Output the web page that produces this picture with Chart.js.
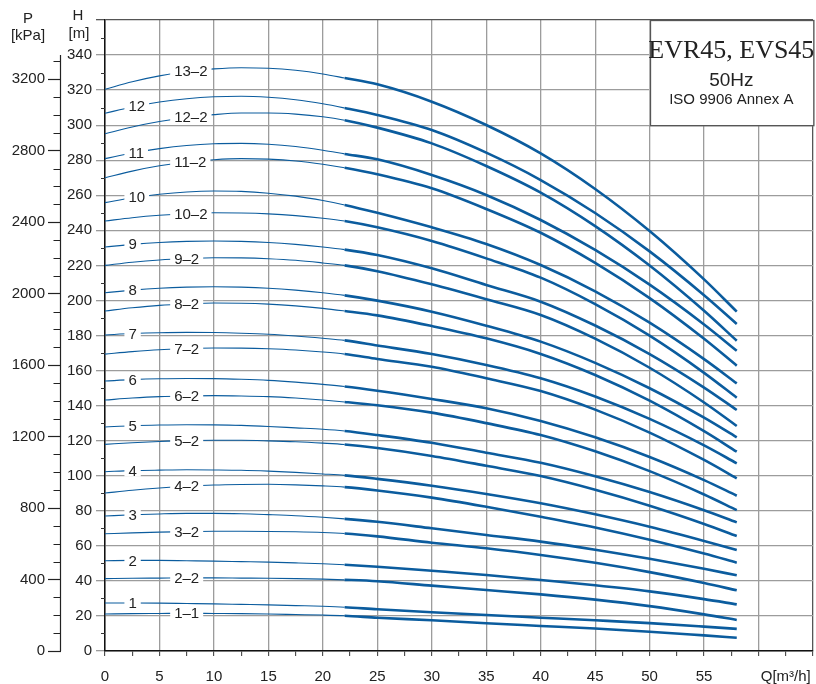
<!DOCTYPE html>
<html><head><meta charset="utf-8">
<script src="https://cdn.jsdelivr.net/npm/chart.js@4.4.1/dist/chart.umd.min.js"></script>
<style>html,body{margin:0;padding:0;background:#fff}#wrap{width:816px;height:684px}</style>
</head><body><div id="wrap"><canvas id="c" width="816" height="684"></canvas></div>
<script>
// Flow rate Q [m3/h]
const Q = [0, 2.5, 5, 7.5, 10, 12.5, 15, 17.5, 20, 22, 25, 30, 35, 40, 45, 50, 55, 58];
// Head H [m] per stage configuration
const H_1_1  = [21.1, 21.3, 21.4, 21.5, 21.4, 21.3, 21.1, 20.8, 20.5, 20.1, 19.0, 17.5, 15.8, 14.3, 12.8, 11.0, 8.9, 7.6];
const H_1    = [27.4, 27.4, 27.3, 27.1, 26.9, 26.6, 26.3, 25.9, 25.5, 25.0, 23.8, 22.1, 20.5, 19.0, 17.5, 15.9, 13.9, 12.6];
const H_2_2  = [41.3, 41.5, 41.6, 41.7, 41.7, 41.6, 41.5, 41.3, 41.0, 40.6, 39.8, 37.3, 34.8, 32.3, 29.3, 25.6, 20.9, 17.7];
const H_2    = [51.5, 51.7, 51.7, 51.5, 51.3, 51.0, 50.7, 50.3, 49.8, 49.2, 48.1, 45.8, 43.4, 40.5, 37.5, 34.0, 29.6, 26.6];
const H_3_2  = [66.9, 67.4, 67.8, 68.1, 68.3, 68.3, 68.2, 68.0, 67.6, 67.0, 65.4, 61.8, 58.6, 54.8, 50.3, 45.0, 38.8, 34.6];
const H_3    = [77.0, 77.7, 78.2, 78.5, 78.5, 78.3, 77.8, 77.2, 76.3, 75.4, 73.7, 70.0, 66.2, 62.4, 57.8, 52.6, 46.9, 43.2];
const H_4_2  = [90.1, 91.7, 93.0, 94.0, 94.7, 95.0, 95.1, 94.8, 94.2, 93.5, 91.6, 87.5, 82.3, 76.6, 70.5, 63.5, 55.6, 50.4];
const H_4    = [102.3, 102.9, 103.2, 103.4, 103.3, 103.1, 102.6, 101.9, 101.0, 100.2, 98.2, 94.3, 89.6, 84.3, 78.0, 70.9, 62.8, 57.6];
const H_5_2  = [117.9, 118.8, 119.5, 120.0, 120.2, 120.2, 119.9, 119.4, 118.6, 117.8, 115.8, 111.3, 105.7, 99.8, 92.0, 82.9, 72.5, 65.6];
const H_5    = [127.8, 128.5, 128.9, 129.1, 129.0, 128.7, 128.1, 127.3, 126.5, 125.5, 123.2, 118.8, 113.1, 107.4, 99.7, 90.7, 80.3, 73.4];
const H_6_2  = [143.2, 144.3, 145.1, 145.5, 145.7, 145.5, 145.1, 144.3, 143.2, 142.1, 140.2, 136.0, 130.0, 123.2, 113.9, 102.6, 89.3, 80.4];
const H_6    = [154.0, 154.8, 155.3, 155.5, 155.4, 155.0, 154.4, 153.4, 152.1, 150.9, 148.5, 143.8, 138.5, 131.2, 121.9, 110.7, 97.5, 88.6];
const H_7_2  = [169.4, 170.8, 171.9, 172.5, 172.9, 172.8, 172.4, 171.7, 170.6, 169.4, 166.6, 162.2, 155.6, 148.3, 137.7, 124.6, 109.0, 98.5];
const H_7    = [180.3, 181.1, 181.6, 181.8, 181.7, 181.3, 180.7, 179.7, 178.4, 177.2, 174.3, 169.4, 163.2, 155.6, 145.2, 132.4, 117.3, 107.1];
const H_8_2  = [194.0, 195.8, 197.2, 198.0, 198.5, 198.4, 197.9, 196.9, 195.5, 194.0, 191.5, 185.4, 178.4, 169.5, 157.5, 142.8, 125.4, 113.7];
const H_8    = [204.4, 205.9, 207.0, 207.6, 207.8, 207.6, 207.0, 205.9, 204.4, 202.9, 199.9, 193.6, 185.6, 176.5, 164.4, 149.9, 133.1, 121.9];
const H_9_2  = [220.0, 221.8, 223.1, 223.9, 224.4, 224.3, 223.8, 222.9, 221.4, 220.0, 216.7, 209.2, 200.7, 191.7, 178.2, 161.6, 141.8, 128.4];
const H_9    = [230.5, 232.0, 233.1, 233.7, 233.9, 233.7, 233.1, 232.0, 230.5, 229.0, 225.9, 218.3, 208.8, 199.3, 185.7, 169.4, 150.3, 137.5];
const H_10_2 = [245.3, 247.2, 248.6, 249.5, 250.0, 249.9, 249.4, 248.4, 246.9, 245.3, 241.7, 233.9, 224.0, 213.0, 197.9, 179.9, 158.7, 144.5];
const H_10   = [255.8, 258.6, 260.6, 261.9, 262.4, 262.2, 261.2, 259.5, 257.0, 254.5, 250.0, 241.7, 232.2, 220.2, 205.2, 187.3, 166.5, 152.7];
const H_11_2 = [270.0, 273.8, 276.8, 279.0, 280.3, 280.9, 280.6, 279.6, 277.7, 275.7, 272.0, 264.0, 252.2, 238.6, 221.4, 201.3, 178.1, 162.8];
const H_11   = [280.9, 284.1, 286.6, 288.4, 289.4, 289.6, 289.1, 287.8, 285.7, 283.6, 280.5, 271.6, 260.2, 245.9, 228.8, 209.0, 186.3, 171.3];
const H_12_2 = [295.1, 299.0, 302.1, 304.4, 306.0, 306.9, 306.9, 306.3, 304.8, 302.8, 298.6, 289.6, 276.7, 261.5, 242.4, 219.9, 194.1, 177.0];
const H_12   = [306.8, 310.4, 313.2, 315.1, 316.2, 316.5, 315.9, 314.5, 312.2, 309.8, 305.8, 297.2, 284.3, 268.7, 249.9, 228.0, 203.0, 186.6];
const H_13_2 = [320.5, 324.8, 328.1, 330.6, 332.1, 332.8, 332.5, 331.3, 329.2, 326.9, 323.3, 313.4, 300.1, 283.9, 263.6, 239.6, 212.0, 193.6];

const curveNames = ['1–1','1','2–2','2','3–2','3','4–2','4','5–2','5','6–2','6','7–2','7','8–2','8','9–2','9','10–2','10','11–2','11','12–2','12','13–2'];
const curveHeads = [H_1_1,H_1,H_2_2,H_2,H_3_2,H_3,H_4_2,H_4,H_5_2,H_5,H_6_2,H_6,H_7_2,H_7,H_8_2,H_8,H_9_2,H_9,H_10_2,H_10,H_11_2,H_11,H_12_2,H_12,H_13_2];
const xTickLabels = [0,5,10,15,20,25,30,35,40,45,50,55];
const xUnitLabel = 'Q[m³/h]';
const hTickLabels = [0,20,40,60,80,100,120,140,160,180,200,220,240,260,280,300,320,340];
const pTickLabels = [0,400,800,1200,1600,2000,2400,2800,3200];
const titleLines = ['EVR45, EVS45','50Hz','ISO 9906 Annex A'];
const KPA_PER_M = 9.81;

const FONT = '"Liberation Sans", Arial, Helvetica, sans-serif';
const LINE = '#0b5c9e';
const GRID = '#9c9c9c';
const FRAME = '#555';

function yAt(pts, px) {
  for (let k = 0; k < pts.length - 1; k++) {
    if (px >= pts[k].x && px <= pts[k+1].x) {
      const t = (px - pts[k].x) / (pts[k+1].x - pts[k].x);
      return pts[k].y + t * (pts[k+1].y - pts[k].y);
    }
  }
  return pts[0].y;
}

const decor = {
  id: 'decor',
  afterDatasetsDraw(chart) {
    const ctx = chart.ctx, xs = chart.scales.x;
    ctx.save();
    ctx.font = '15px ' + FONT;
    chart.data.datasets.forEach((ds, i) => {
      const meta = chart.getDatasetMeta(i);
      const name = ds.label;
      const isSub = name.indexOf('–') >= 0;
      const left = xs.getPixelForValue(isSub ? 6.35 : 2.15);
      const w = ctx.measureText(name).width;
      const y = yAt(meta.data, left + w / 2);
      ctx.fillStyle = '#fff';
      ctx.fillRect(left - 4, y - 6, w + 8, 12);
      ctx.fillStyle = '#222';
      ctx.textAlign = 'left';
      ctx.textBaseline = 'middle';
      ctx.fillText(name, left, y + 1);
    });
    ctx.restore();
  },
  afterDraw(chart) {
    const ctx = chart.ctx, xs = chart.scales.x, ys = chart.scales.y, ps = chart.scales.yP;
    ctx.save();
    ctx.strokeStyle = '#333'; ctx.lineWidth = 1;
    for (let v = 10; v < 360; v += 20) {
      const y = Math.round(ys.getPixelForValue(v)) + 0.5;
      ctx.beginPath(); ctx.moveTo(ys.right - 4, y); ctx.lineTo(ys.right, y); ctx.stroke();
    }
    const px = Math.round(ps.right) - 0.5;
    ctx.strokeStyle = '#222'; ctx.lineWidth = 1.2;
    ctx.beginPath();
    ctx.moveTo(px, ps.getPixelForValue(340 * KPA_PER_M));
    ctx.lineTo(px, ps.getPixelForValue(0));
    ctx.stroke();
    ctx.lineWidth = 1;
    for (let v = 100; v <= 3300; v += 100) {
      if (v % 400 === 0) continue;
      const y = Math.round(ps.getPixelForValue(v)) + 0.5;
      ctx.beginPath(); ctx.moveTo(px - 7, y); ctx.lineTo(px, y); ctx.stroke();
    }
    ctx.fillStyle = '#222';
    ctx.textAlign = 'center'; ctx.textBaseline = 'middle';
    ctx.font = '15px ' + FONT;
    ctx.fillText('P', 28, 19);
    ctx.fillText('[kPa]', 28, 36);
    ctx.fillText('H', 78, 16);
    ctx.fillText('[m]', 79, 34);
    const x0 = xs.getPixelForValue(50), x1 = xs.getPixelForValue(65);
    const y0 = ys.getPixelForValue(360), y1 = ys.getPixelForValue(300);
    ctx.fillStyle = '#fff';
    ctx.fillRect(x0, y0, x1 - x0, y1 - y0);
    ctx.strokeStyle = FRAME; ctx.lineWidth = 1.3;
    ctx.strokeRect(Math.round(x0) + 0.5, Math.round(y0) + 0.5, x1 - x0, y1 - y0);
    const cx = (x0 + x1) / 2;
    ctx.fillStyle = '#222';
    ctx.font = '26px "Liberation Serif", "Times New Roman", serif';
    ctx.fillText(titleLines[0], cx, y0 + 31);
    ctx.font = '19px ' + FONT;
    ctx.fillText(titleLines[1], cx, y0 + 61);
    ctx.font = '15px ' + FONT;
    ctx.fillText(titleLines[2], cx, y0 + 80);
    ctx.restore();
  }
};

const datasets = curveNames.map((name, i) => ({
  label: name,
  data: Q.map((q, k) => ({x: q, y: curveHeads[i][k]})),
  borderColor: LINE,
  borderWidth: 2.6,
  pointRadius: 0,
  fill: false,
  cubicInterpolationMode: 'monotone',
  segment: { borderWidth: c => (c.p0.parsed.x < 21.99 ? 1.1 : 2.6) }
}));

Chart.defaults.font.family = FONT;
Chart.defaults.font.size = 15;
Chart.defaults.color = '#222';

new Chart(document.getElementById('c'), {
  type: 'line',
  data: { datasets },
  options: {
    responsive: false,
    animation: false,
    events: [],
    layout: { padding: { top: 20, right: 3, left: 0, bottom: 0 } },
    plugins: { legend: { display: false }, tooltip: { enabled: false } },
    scales: {
      x: {
        type: 'linear', min: 0, max: 65,
        afterFit: s => { s.height = 33; s.paddingLeft = 0; s.paddingRight = 0; },
        ticks: {
          stepSize: 2.5, autoSkip: false, maxRotation: 0, padding: 12,
          callback: v => (xTickLabels.includes(v) ? String(v) : (v === 62.5 ? xUnitLabel : ''))
        },
        grid: {
          color: c => (c.tick && c.tick.value % 5 === 0 ? (c.tick.value === 65 ? FRAME : GRID) : 'transparent'),
          lineWidth: 1.3,
          tickColor: '#333', tickLength: 5, tickWidth: 1
        },
        border: { color: '#111', width: 1.5 }
      },
      y: {
        type: 'linear', min: 0, max: 360, position: 'left', weight: 0,
        afterFit: s => { s.width = 44; s.paddingTop = 0; s.paddingBottom = 0; },
        ticks: {
          stepSize: 10, autoSkip: false, padding: 4,
          callback: v => (hTickLabels.includes(v) ? String(v) : '')
        },
        grid: {
          color: c => (c.tick && c.tick.value % 20 === 0 ? (c.tick.value === 360 ? FRAME : GRID) : 'transparent'),
          lineWidth: 1.3,
          tickColor: c => (c.tick && c.tick.value % 20 === 0 ? (c.tick.value === 360 ? FRAME : GRID) : 'transparent'),
          tickLength: 9
        },
        border: { color: '#111', width: 1.5 }
      },
      yP: {
        type: 'linear', min: 0, max: 360 * KPA_PER_M, position: 'left', weight: 1,
        afterFit: s => { s.width = 61; s.paddingTop = 0; s.paddingBottom = 0; },
        ticks: {
          stepSize: 100, includeBounds: false, autoSkip: false, padding: 3,
          callback: v => (pTickLabels.includes(v) ? String(v) : '')
        },
        grid: {
          drawOnChartArea: false,
          tickLength: 13, tickWidth: 1.2,
          tickColor: c => (c.tick && pTickLabels.includes(c.tick.value) ? '#222' : 'transparent')
        },
        border: { display: false }
      }
    }
  },
  plugins: [decor]
});
</script></body></html>
